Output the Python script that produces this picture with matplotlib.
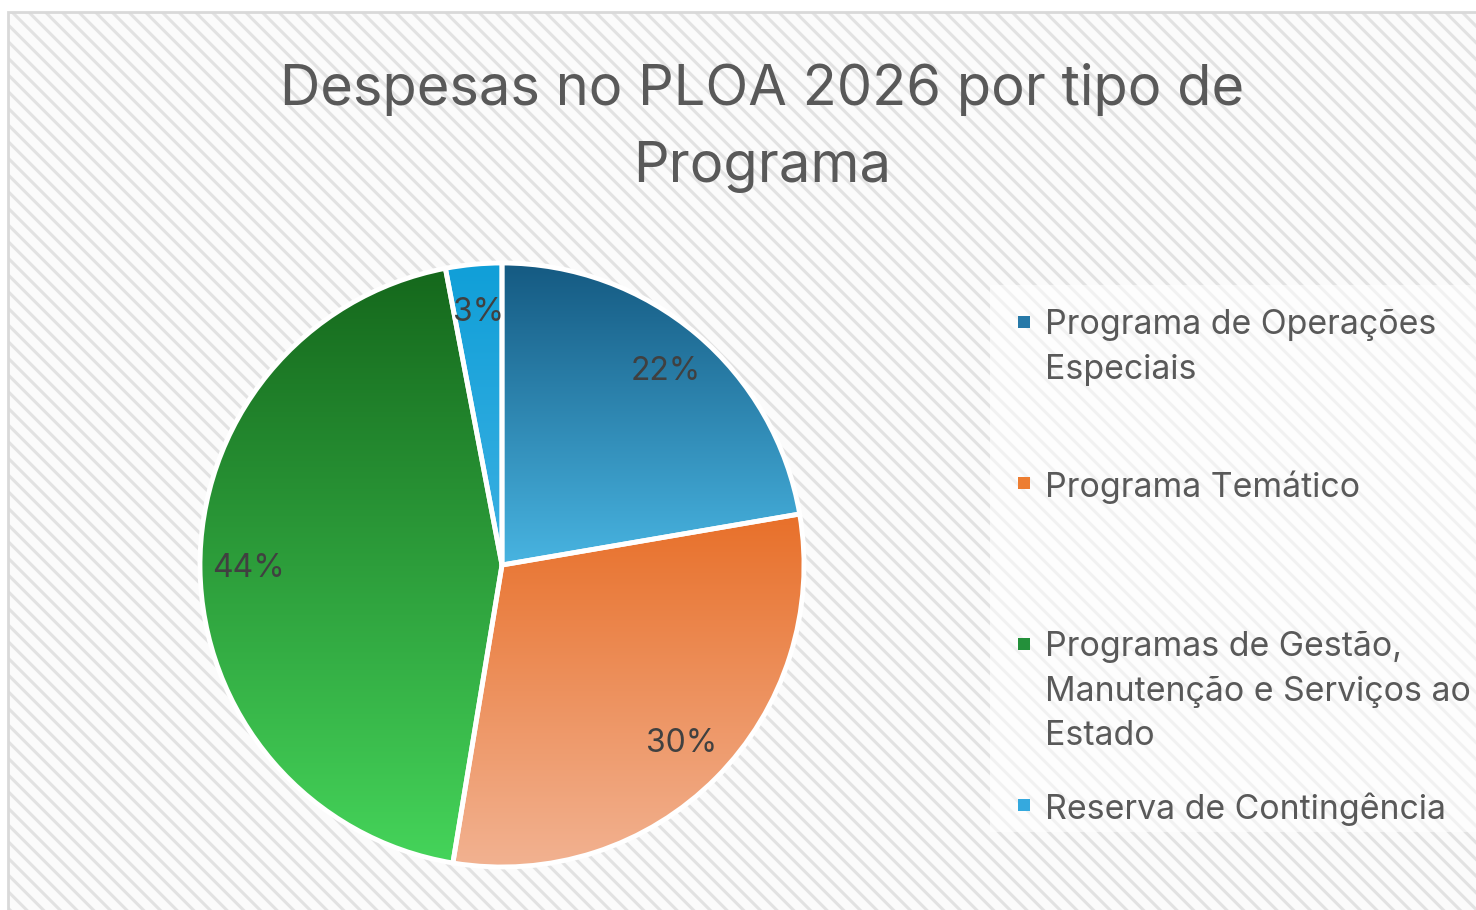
import numpy as np
import matplotlib
matplotlib.use('Agg')
import matplotlib.pyplot as plt
from matplotlib.colors import LinearSegmentedColormap
from matplotlib.patches import Rectangle

plt.rcParams['font.family'] = ['Inter', 'DejaVu Sans']
plt.rcParams['hatch.linewidth'] = 2.2

# dados (participação %)
categorias = ['Programa de Operações\nEspeciais',
              'Programa Temático',
              'Programas de Gestão,\nManutenção e Serviços ao\nEstado',
              'Reserva de Contingência']
valores = [22.3, 30.3, 44.4, 3.0]
cores_topo = ['#155a82', '#e8702a', '#15681c', '#109fd8']
cores_base = ['#48b4e1', '#f2b291', '#45d45a', '#3cb0e2']
cores_legenda = ['#2779a8', '#ed7d31', '#23903a', '#35a9de']

W, H = 1476, 910
fig = plt.figure(figsize=(W / 100, H / 100), dpi=100)
fig.patch.set_facecolor('white')

# fundo listrado
fundo = Rectangle((8 / W, 0), 1 - 8 / W, 1 - 12 / H, transform=fig.transFigure,
                  facecolor='#fbfbfb', edgecolor='#e2e2e2', hatch='\\\\',
                  linewidth=0, zorder=-3)
fig.patches.append(fundo)
borda = Rectangle((8 / W, -0.01), 1.01, 1 - 12 / H + 0.01, transform=fig.transFigure,
                  facecolor='none', edgecolor='#d9d9d9', linewidth=2, zorder=-2)
fig.patches.append(borda)
caixa = Rectangle((990 / W, 1 - 832 / H), 1 - 990 / W, (832 - 285) / H,
                  transform=fig.transFigure, facecolor='white', alpha=0.55,
                  linewidth=0, zorder=-2)
fig.patches.append(caixa)

# pizza
ax = fig.add_axes([200 / W, 1 - 867 / H, 604 / W, 604 / H])
ax.set_zorder(2)
wedges, textos, pcts = ax.pie(valores, startangle=90, counterclock=False,
                              autopct='%.0f%%', pctdistance=0.84, radius=1,
                              wedgeprops=dict(edgecolor='white', linewidth=3.5),
                              textprops=dict(color='#404040', fontsize=23))
for w, c1, c2 in zip(wedges, cores_topo, cores_base):
    bb = w.get_path().get_extents()
    cmap = LinearSegmentedColormap.from_list('g', [c2, c1])
    grad = np.linspace(0, 1, 256).reshape(-1, 1)
    im = ax.imshow(grad, extent=[bb.x0, bb.x1, bb.y0, bb.y1], origin='lower',
                   cmap=cmap, aspect='auto', zorder=w.get_zorder() - 0.1)
    im.set_clip_path(w)
    w.set_facecolor('none')
for t in pcts:
    t.set_zorder(5)
ax.set_xlim(-1.0, 1.0)
ax.set_ylim(-1.0, 1.0)
ax.axis('off')

# título
fig.text(762 / W, 1 - 128 / H, 'Despesas no PLOA 2026 por tipo de\nPrograma',
         ha='center', va='center', fontsize=40.3, color='#595959',
         linespacing=1.63)

# legenda
for i, (nome, cor) in enumerate(zip(categorias, cores_legenda)):
    y = 322 + i * 161
    fig.patches.append(Rectangle((1018 / W, 1 - (y + 6) / H), 12 / W, 12 / H,
                                 transform=fig.transFigure, facecolor=cor,
                                 linewidth=0, zorder=3))
    fig.text(1045 / W, 1 - (y - 13) / H, nome, ha='left', va='top',
             fontsize=24.4, color='#595959', linespacing=1.5, zorder=3)

fig.savefig('out.png', dpi=100)
